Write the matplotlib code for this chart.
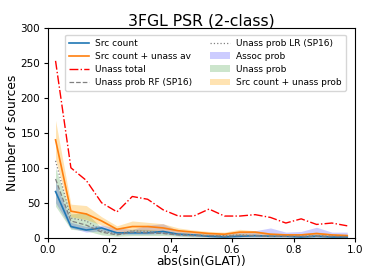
import numpy as np
import matplotlib
matplotlib.use("Agg")
import matplotlib.pyplot as plt

# bin centres in abs(sin(GLAT))
bins = np.linspace(0.025, 0.975, 20)

src_count = [66, 16, 11, 14, 7, 7, 7, 9, 5, 4, 2, 1, 2, 3, 2, 2, 1, 2, 1, 1]
src_unass_av = [140, 38, 34, 24, 12, 16, 16, 14, 10, 8, 6, 5, 8, 8, 5, 4, 4, 6, 4, 3]
unass_total = [253, 100, 82, 50, 37, 59, 55, 40, 31, 31, 41, 31, 31, 33, 29, 21, 27, 19, 21, 17]
unass_rf = [84, 24, 18, 8, 4, 8, 7, 6, 4, 3, 3, 2, 3, 3, 2, 2, 2, 2, 2, 1]
unass_lr = [110, 28, 24, 10, 5, 10, 9, 7, 5, 4, 3, 3, 4, 3, 2, 2, 2, 3, 2, 2]

assoc_lo = [50, 14, 8, 10, 5, 5, 5, 6, 3, 2, 1, 1, 1, 1, 1, 1, 1, 1, 1, 1]
assoc_hi = [80, 22, 16, 18, 14, 12, 18, 20, 10, 8, 6, 5, 8, 10, 14, 8, 9, 15, 8, 8]
unass_lo = [45, 12, 10, 4, 2, 3, 3, 3, 2, 1, 1, 1, 1, 1, 1, 1, 1, 1, 1, 1]
unass_hi = [100, 34, 36, 14, 7, 12, 12, 10, 7, 6, 5, 4, 6, 5, 4, 3, 3, 5, 3, 3]
tot_lo = [112, 30, 26, 18, 8, 10, 10, 10, 7, 5, 4, 3, 5, 5, 3, 3, 3, 4, 3, 2]
tot_hi = [168, 48, 46, 30, 17, 24, 22, 20, 14, 11, 9, 8, 12, 10, 7, 6, 6, 8, 6, 5]

fig = plt.figure(figsize=(3.74, 2.8), dpi=100)
ax = fig.add_axes([0.128, 0.151, 0.821, 0.749])

ax.plot(bins, src_count, color="tab:blue", lw=1.2, label="Src count")
ax.plot(bins, src_unass_av, color="tab:orange", lw=1.2, label="Src count + unass av")
ax.plot(bins, unass_total, color="red", ls="-.", lw=1.0, label="Unass total")
ax.plot(bins, unass_rf, color="gray", ls="--", lw=0.9, label="Unass prob RF (SP16)")
ax.plot(bins, unass_lr, color="gray", ls=":", lw=0.9, label="Unass prob LR (SP16)")
ax.fill_between(bins, assoc_lo, assoc_hi, color="blue", alpha=0.2, lw=0, label="Assoc prob")
ax.fill_between(bins, unass_lo, unass_hi, color="green", alpha=0.2, lw=0, label="Unass prob")
ax.fill_between(bins, tot_lo, tot_hi, color="orange", alpha=0.3, lw=0, label="Src count + unass prob")

ax.set_xlim(0, 1)
ax.set_ylim(0, 300)
ax.tick_params(labelsize=7.5, length=3, pad=2.5)
ax.set_xlabel("abs(sin(GLAT))", fontsize=8.8, labelpad=0)
ax.set_ylabel("Number of sources", fontsize=8.8, labelpad=1)
ax.set_title("3FGL PSR (2-class)", fontsize=11.3, pad=2)
ax.legend(ncol=2, fontsize=6.5, loc="upper right", handlelength=2.2,
          handletextpad=0.65, columnspacing=2.0, labelspacing=0.45,
          borderpad=0.45, bbox_to_anchor=(0.985, 0.99))

fig.savefig("out.png", dpi=100)
